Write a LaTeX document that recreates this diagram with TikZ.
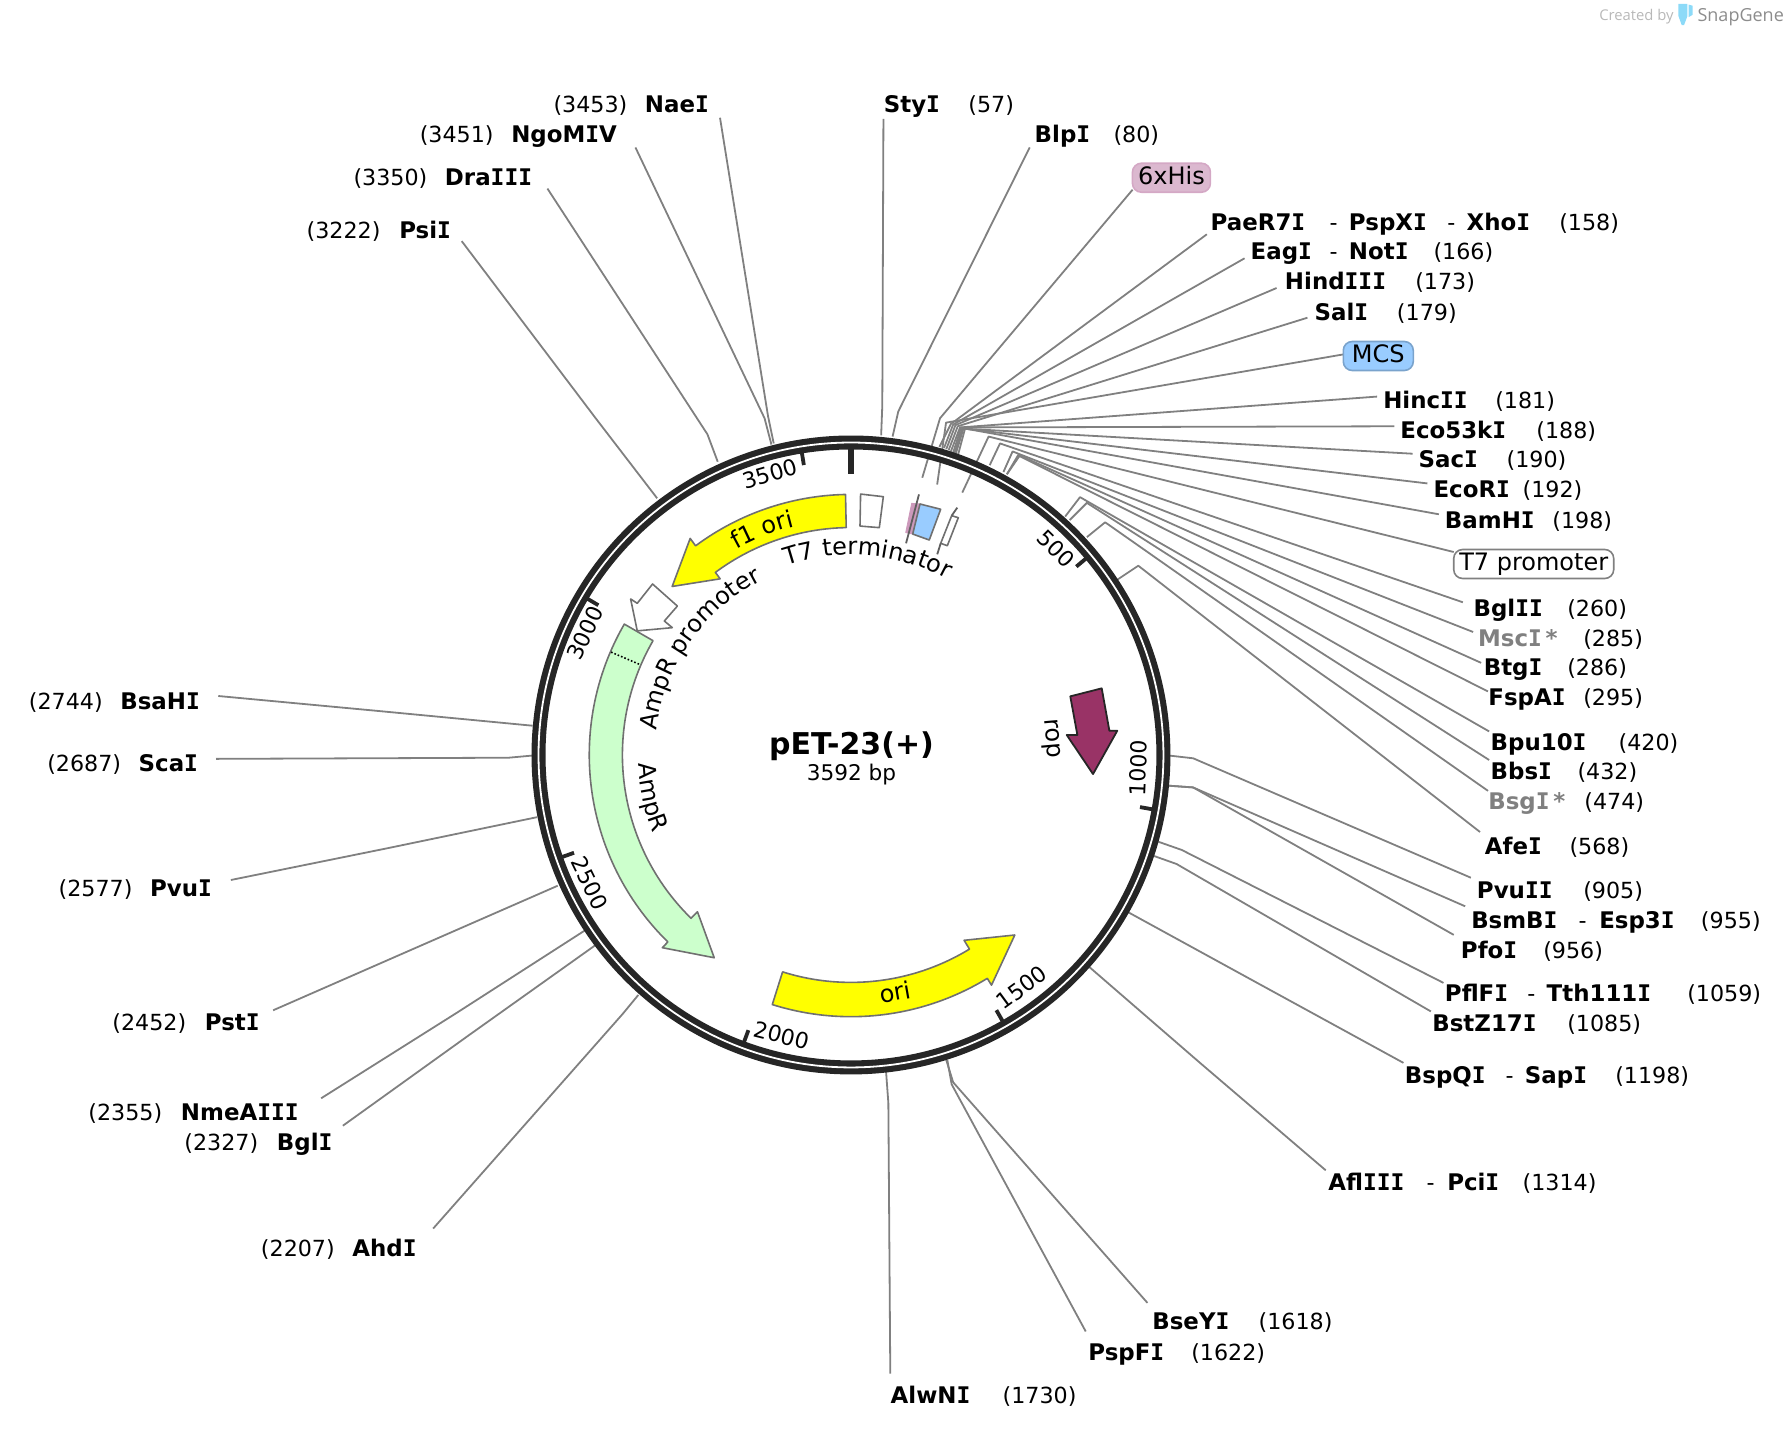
\documentclass[tikz,border=0pt]{standalone}
\usepackage{fontspec}
\usetikzlibrary{decorations.text}
\setmainfont{DejaVu Sans}
\newfontfamily\logofont{Open Sans}
\newfontfamily\slabfont{DejaVu Sans Mono}
\newcommand{\arcfont}{\fontsize{12}{14}\selectfont}
\newcommand{\sI}{{\slabfont\bfseries I}}
\definecolor{ringdark}{HTML}{262626}
\definecolor{leadergray}{HTML}{808080}
\definecolor{featline}{HTML}{707070}
\definecolor{featyellow}{HTML}{FFFF00}
\definecolor{ampgreen}{HTML}{CCFFCC}
\definecolor{ropred}{HTML}{993366}
\definecolor{hispink}{HTML}{CC99BB}
\definecolor{mcsblue}{HTML}{99CCFF}
\tikzset{
	leader/.style = {draw = leadergray, line width = 0.9pt, line join = round},
	site/.style = {anchor = base west, inner sep = 0pt, font = \fontsize{11.45}{14}\selectfont\bfseries},
	sitepos/.style = {anchor = base west, inner sep = 0pt, font = \fontsize{11.1}{13}\selectfont},
	feat/.style = {draw = featline, line width = 0.8pt, line join = round},
	pill/.style = {rounded corners = 4.5pt, line width = 0.8pt, inner sep = 0pt, minimum height = 14.5pt, text height = 8.8pt, text depth = 2.4pt, font = \fontsize{12}{14}\selectfont},
	ticklab/.style = {inner sep = 0pt, font = \fontsize{11}{13}\selectfont},
	ticks/.style = {draw = ringdark, line width = 1.9pt}
}
\begin{document}
\begin{tikzpicture}[x = 0.5714286pt, y = -0.5714286pt]
	\useasboundingbox (0, 0) rectangle (1568, 1253);
	%Leaders
	\foreach \id/\xa/\ya/\xe/\ye/\xb/\yb in {
		NaeI/630/103/672/364/677/388, NgoMIV/556/129/669/366/675/389,
		DraIII/479/165/619/380/628/404, PsiI/404/211/522/367/575/436,
		StyI/773/104/772/355/771/381, BlpI/901/129/786/360/781/382,
		his/991/166/822.5/366/807/418, PaeR7I/1056/205/832/371/822/391,
		EagI/1089/226/834/371.5/826/392, HindIII/1117/252/836/372/828/393,
		SalI/1144/278/838/373/830/394, mcs/1176/310/827.8/369.8/820/424,
		HincII/1205/347/840/374/832/395, Eco53kI/1220/373/841/374/834/396,
		SacI/1236/397/842/375/835/397, EcoRI/1249/423/843/375/836/398,
		BamHI/1259/450/844.4/375/838/399, tseven/1272/483/865/382/842/431,
		BglII/1280/527/875/388/866/407, MscI/1289/553/886/395/878/413,
		BtgI/1296/580/891/398/881/415, FspAI/1302/605/892/399/881/415,
		Bpu10I/1303/640/945/435/932/452, BbsI/1303/665/951/440/936/455,
		BsgI/1302/692/967/457/951/470, AfeI/1295/728/996/495/978/507,
		PvuII/1287/768/1044/663.5/1023.8/661.2, BsmBI/1282/793/1044/689/1023/687.5,
		PfoI/1272/818/1044/689/1023/687.5, PflFI/1263/860/1034/743.7/1013.5/736.5,
		BstZ17I/1252/885/1029.5/756/1009/748.7, BspQI/1228/930/1100/860/985/797,
		AflIII/1160/1024/1050/930/953/846, BseYI/1004/1140/834/947/827.8/926.9,
		PspFI/950/1165/832.7/948.8/828.9/927.5, AlwNI/779/1202/777.3/965/775.3/937.7,
		AhdI/379/1075/545/887/558.5/870.6, BglI/300/985/410/906/521/827,
		NmeAIII/281/961/400/886/512/814, PstI/239/884/360/831/488/775,
		PvuI/202/770/340/742/470/715, ScaI/189/664/445/663/467/661,
		BsaHI/191/609/330/622/466/635}{
		\coordinate (\id a) at (\xa, \ya);
		\coordinate (\id b) at (\xb, \yb);
		\draw[leader] (\id a) -- (\xe, \ye) -- (\id b);
	}
	%Ring, features
	\begin{scope}[shift = {(744.6, 660.6)}, y = 0.5714286pt]
		\draw[draw = ringdark, line width = 7pt] (0, 0) circle (273.4);
		\draw[draw = white, line width = 0.9pt] (0, 0) circle (273.4);
		\foreach \p in {500,1000,...,3500}
			\draw[ticks] ({90 - \p * 0.100223}:268) -- ({90 - \p * 0.100223}:257);
		\draw[ticks, line width = 2.6pt] (90:268) -- (90:246);
		%f1 ori
		\draw[feat, fill = featyellow] (91.2:228) arc (91.2:126.6:228) -- (126.6:236) -- (136.7:215) -- (126.6:192) -- (126.6:199) arc (126.6:91.2:199) -- cycle;
		%ori
		\draw[feat, fill = featyellow] (252.5:229) arc (252.5:301.4:229) -- (301.4:236) -- (312.3:213) -- (301.4:190) -- (301.4:199) arc (301.4:252.5:199) -- cycle;
		%AmpR
		\draw[feat, fill = ampgreen] (150:229) arc (150:225.6:229) -- (225.6:236) -- (236:214) -- (225.6:192) -- (225.6:200) arc (225.6:150:200) -- cycle;
		\draw[densely dotted, line width = 0.8pt] (156.8:228.4) -- (156.8:201);
		%Text on the arcs
		\path[decorate, decoration = {text along path, text align = center, text = {|\arcfont|f1 ori}}] (120:206) arc (120:103:206);
		\path[decorate, decoration = {text along path, text align = center, text = {|\arcfont|T7 terminator}}] (110:175) arc (110:60:175);
		\path[decorate, decoration = {text along path, text align = center, text = {|\arcfont|AmpR promoter}}] (172:171.5) arc (172:118:171.5);
		\path[decorate, decoration = {text along path, text align = center, text = {|\arcfont|AmpR}}] (181.5:186) arc (181.5:202.5:186);
	\end{scope}
	%AmpR promoter
	\draw[feat, fill = white] (571, 511) -- (592.7, 530.3) -- (581.3, 543.4) -- (588.3, 549.2) -- (557.6, 552) -- (551.8, 524.1) -- (557.6, 527.9) -- cycle;
	%T7 terminator
	\draw[feat, fill = white] (753, 432.3) -- (772.9, 434.6) -- (769.4, 461.7) -- (752.5, 460.3) -- cycle;
	%6xHis, MCS, T7 promoter
	\draw[draw = hispink, fill = hispink] (797.7, 440.4) -- (805, 441) -- (798.6, 467.3) -- (792.5, 466) -- cycle;
	\draw[draw = featline!85!black, line width = 0.9pt] (804.1, 432.6) -- (792.8, 475.4);
	\draw[feat, fill = mcsblue] (805, 441) -- (823.1, 445.6) -- (813.1, 472.5) -- (798.6, 467.3) -- cycle;
	\draw[feat, fill = white] (832.7, 451.2) -- (838.5, 453) -- (828.9, 477.5) -- (823.1, 475.4) -- cycle;
	\draw[draw = featline!85!black, line width = 0.9pt] (837.6, 444.2) -- (832.7, 451.2);
	\draw[draw = featline!85!black, line width = 0.9pt] (823.1, 475.4) -- (820.1, 485);
	%rop
	\draw[draw = ringdark, line width = 0.9pt, line join = round, fill = ropred] (936.5, 609.3) -- (964, 602.3) -- (970.7, 639.4) -- (977.6, 639.4) -- (956.4, 677.3) -- (933.4, 643.1) -- (942.7, 643.1) -- cycle;
	\node[font = \arcfont, rotate = -85] (rop) at (919, 646) {rop};
	\node[font = \arcfont, rotate = 10] (orilab) at (783, 868) {ori};
	%Scale numbers
	\node[ticklab, rotate = 16] (t3500) at (673.8, 414.7) {3500};
	\node[ticklab, rotate = 65.4] (t3000) at (512, 554) {3000};
	\node[ticklab, rotate = -44.7] (t500) at (924, 480) {500};
	\node[ticklab, rotate = 87.4] (t1000) at (996, 672) {1000};
	\node[ticklab, rotate = 36.3] (t1500) at (894, 864) {1500};
	\node[ticklab, rotate = -14] (t2000) at (684, 906) {2000};
	\node[ticklab, rotate = -64] (t2500) at (516, 773) {2500};
	%Centre
	\node[font = \fontsize{15}{18}\selectfont\bfseries] (plasmid) at (745, 653) {pET-23(+)};
	\node[sitepos, anchor = center, font = \fontsize{10.8}{13}\selectfont] (size) at (745, 677.5) {3592 bp};
	%Sites
	\foreach \id/\x/\y/\txt in {
		NaeI/564/91/Nae\sI, NgoMIV/447/117/NgoM\sI V, DraIII/389/155/Dra\sI\sI\sI, PsiI/349/201/Psi\sI,
		StyI/773/91/Sty\sI, BlpI/905/117/Blp\sI, PaeR7I/1059/194/PaeR7\sI, PspXI/1180/194/PspX\sI,
		XhoI/1283/194/Xho\sI, EagI/1094/220/Eag\sI, NotI/1180/220/Not\sI, HindIII/1124/246/Hind\sI\sI\sI,
		SalI/1150/273/Sal\sI, HincII/1210/350/Hinc\sI\sI, Eco53kI/1225/376/Eco53k\sI, SacI/1241/402/Sac\sI,
		EcoRI/1254/428/EcoR\sI, BamHI/1264/455/BamH\sI, BglII/1289/532/Bgl\sI\sI, BtgI/1298/584/Btg\sI,
		FspAI/1302/610/FspA\sI, Bpu10I/1304/649/Bpu10\sI, BbsI/1304/675/Bbs\sI, AfeI/1299/740/Afe\sI,
		PvuII/1292/779/Pvu\sI\sI, BsmBI/1287/805/BsmB\sI, Esp3I/1399/805/Esp3\sI, PfoI/1278/831/Pfo\sI,
		PflFI/1264/869/PflF\sI, Tth111I/1353/869/Tth111\sI, BstZ17I/1253/895/BstZ17\sI, BspQI/1229/941/BspQ\sI,
		SapI/1334/941/Sap\sI, AflIII/1162/1034/Afl\sI\sI\sI, PciI/1266/1034/Pci\sI, BseYI/1008/1156/BseY\sI,
		PspFI/952/1183/PspF\sI, AlwNI/779/1221/AlwN\sI, BsaHI/105/613/BsaH\sI, ScaI/121/668/Sca\sI,
		PvuI/131/777/Pvu\sI, PstI/179/894/Pst\sI, NmeAIII/158/973/NmeA\sI\sI\sI, BglI/242/999/Bgl\sI,
		AhdI/308/1092/Ahd\sI}
		\node[site] (\id) at (\x, \y + 7.4) {\txt};
	\node[site, text = leadergray] (MscI) at (1293, 558 + 7.4) {Msc\sI\,*};
	\node[site, text = leadergray] (BsgI) at (1302, 701 + 7.4) {Bsg\sI\,*};
	%Site numbers
	\foreach \id/\x/\y/\txt in {
		NaeIp/484/91/3453, NgoMIVp/367/117/3451, DraIIIp/309/155/3350, PsiIp/268/201/3222,
		StyIp/847/91/57, BlpIp/974/117/80, XhoIp/1364/194/158, NotIp/1254/220/166,
		HindIIIp/1238/246/173, SalIp/1222/273/179, HincIIp/1308/350/181, Eco53kIp/1344/376/188,
		SacIp/1318/402/190, EcoRIp/1332/428/192, BamHIp/1358/455/198, BglIIp/1371/532/260,
		MscIp/1385/558/285, BtgIp/1371/584/286, FspAIp/1385/610/295, Bpu10Ip/1416/649/420,
		BbsIp/1380/675/432, BsgIp/1386/701/474, AfeIp/1373/740/568, PvuIIp/1385/779/905,
		Esp3Ip/1488/805/955, PfoIp/1350/831/956, Tth111Ip/1476/869/1059, BstZ17Ip/1371/895/1085,
		SapIp/1413/941/1198, PciIp/1332/1034/1314, BseYIp/1101/1156/1618, PspFIp/1042/1183/1622,
		AlwNIp/877/1221/1730, BsaHIp/25/613/2744, ScaIp/41/668/2687, PvuIp/51/777/2577,
		PstIp/98/894/2452, NmeAIIIp/77/973/2355, BglIp/161/999/2327, AhdIp/228/1092/2207}
		\node[sitepos] (\id) at (\x, \y + 7.4) {(\txt)};
	%Dashes between enzyme names
	\foreach \id/\x/\y in {
		dasha/1163/194, dashb/1266/194, dashc/1163/220, dashd/1381/805,
		dashe/1336/869, dashf/1317/941, dashg/1248/1034}
		\node[sitepos] (\id) at (\x, \y + 7.4) {-};
	%Feature tags
	\node[pill, draw = hispink!85!white, fill = hispink!70!white, minimum width = 39pt] (his) at (1025, 155.5) {6xHis};
	\node[pill, draw = mcsblue!80!black, fill = mcsblue, minimum width = 35pt] (mcs) at (1206, 311.5) {MCS};
	\node[pill, draw = leadergray, fill = white, minimum width = 80pt] (tseven) at (1342, 493.5) {T7 promoter};
	%Credit
	\node[anchor = west, inner sep = 0pt, text = black!28, font = \logofont\fontsize{7.4}{9}\selectfont] (credit) at (1399, 15) {Created by};
	\fill[fill = cyan!45!white] (1468.6, 3.5) -- (1476.5, 3.5) -- (1476.5, 14) -- (1473.5, 22) -- (1471.5, 22) -- (1468.6, 14) -- cycle;
	\fill[fill = cyan!45!white] (1477.5, 4) -- (1481, 5) -- (1481, 13) -- (1477.5, 15) -- cycle;
	\node[anchor = west, inner sep = 0pt, text = black!45, font = \logofont\fontsize{9}{11}\selectfont] (brand) at (1485, 15) {SnapGene};
\end{tikzpicture}
\end{document}
